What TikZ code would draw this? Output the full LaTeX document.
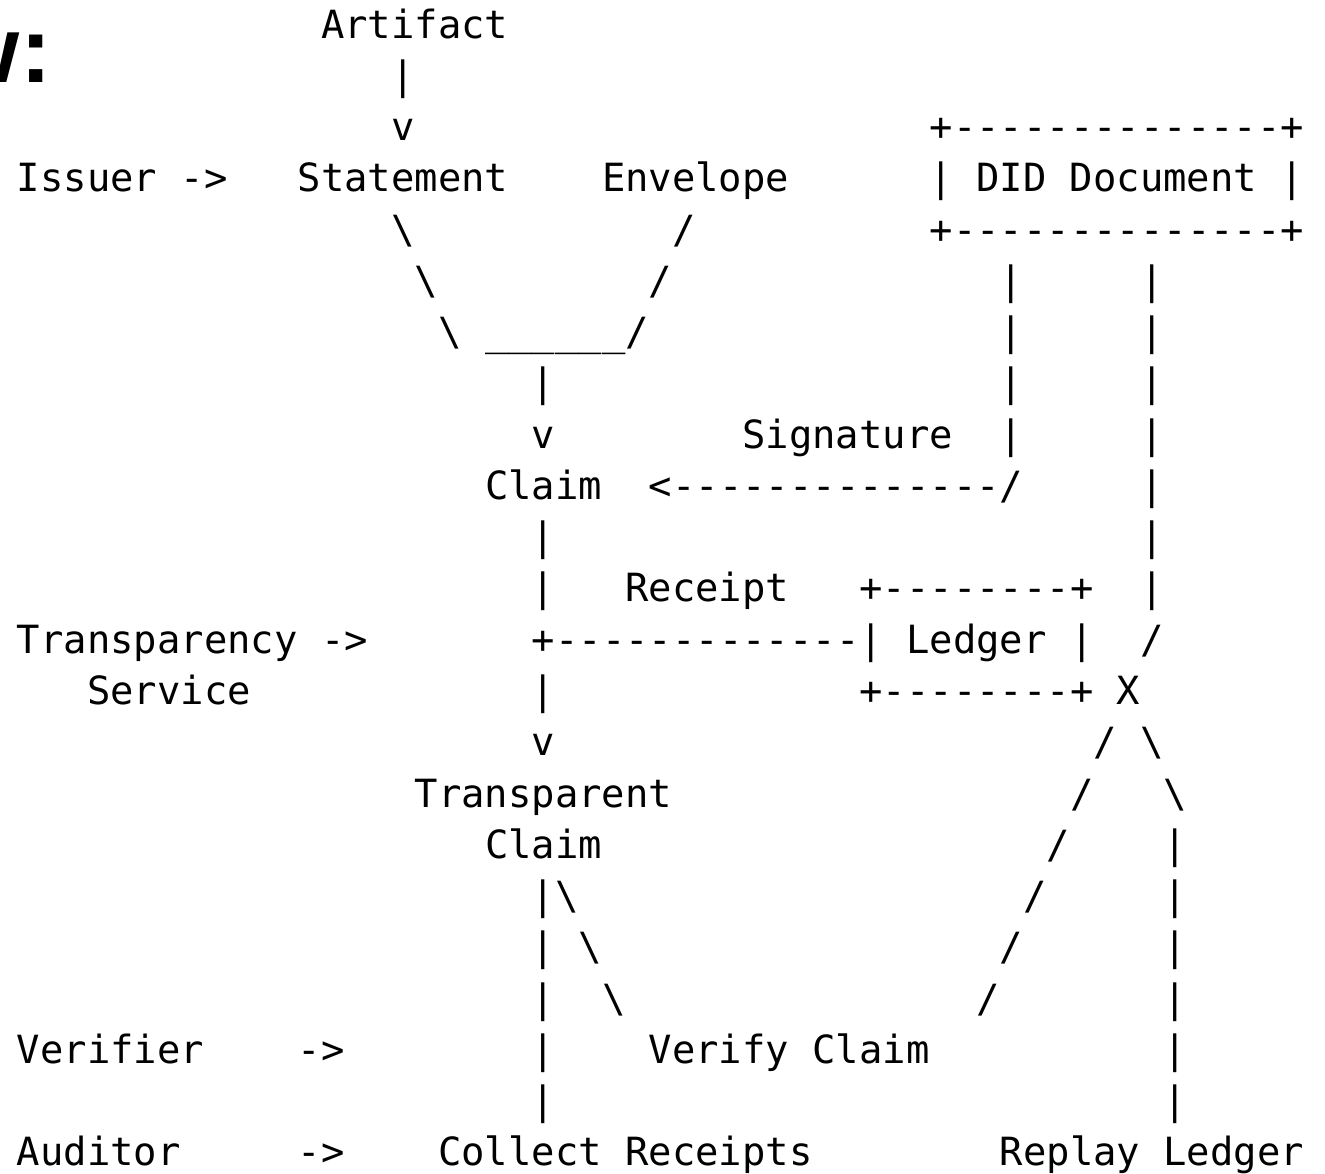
\documentclass[tikz,border=0pt]{standalone}
\usepackage{fontspec}
\newfontfamily\asciifont{DejaVu Sans Mono}
\newfontfamily\headfont{Liberation Sans}

% character grid: cell width 23.4, row pitch 51.27 (picture units, y downwards)
\tikzset{
  asc/.style={inner sep=0pt, outer sep=0pt, anchor=base west,
              font=\asciifont\fontsize{19.43pt}{20pt}\selectfont},
  heading/.style={inner sep=0pt, outer sep=0pt, anchor=base west,
              font=\headfont\bfseries\fontsize{47pt}{50pt}\selectfont},
}
% \asc{name}{column}{row}{text}
\newcommand\asc[4]{\node[asc] (#1) at ({17+23.4*(#2)},{38+51.27*(#3)}) {#4};}
% \dashrun{name}{first column}{last column}{row}
\newcommand\dashrun[4]{\foreach \c in {#2,...,#3}{\node[asc] (#1-\c) at ({17+23.4*\c},{38+51.27*(#4)}) {-};}}
\newcommand\bs{\textbackslash}

\begin{document}
\begin{tikzpicture}[x=0.5pt,y=-0.5pt]
\useasboundingbox (0,0) rectangle (1325,1173);
\clip (0,0) rectangle (1325,1173);

% tail of the section heading
\node[heading] (head) at (-53,82) {w:};

% row 0-3: artifact, statement, envelope, DID document
\asc{artifact}{13}{0}{Artifact}
\asc{a1}{16}{1}{|}
\asc{a2}{16}{2}{v}
\asc{did-tl}{39}{2}{+}\dashrun{did-top}{40}{53}{2}\asc{did-tr}{54}{2}{+}
\asc{issuer}{0}{3}{Issuer ->}
\asc{statement}{12}{3}{Statement}
\asc{envelope}{25}{3}{Envelope}
\asc{did-l}{39}{3}{|}
\asc{did}{41}{3}{DID Document}
\asc{did-r}{54}{3}{|}
\asc{did-bl}{39}{4}{+}\dashrun{did-bot}{40}{53}{4}\asc{did-br}{54}{4}{+}

% statement and envelope merge into the claim
\asc{s1}{16}{4}{\bs}
\asc{e1}{28}{4}{/}
\asc{s2}{17}{5}{\bs}
\asc{e2}{27}{5}{/}
\asc{s3}{18}{6}{\bs}
\foreach \c in {20,...,25}{\asc{u-\c}{\c}{6}{\textunderscore}}
\asc{e3}{26}{6}{/}
\asc{m1}{22}{7}{|}
\asc{m2}{22}{8}{v}
\asc{signature}{31}{8}{Signature}
\asc{claim}{20}{9}{Claim}
\asc{sig-tip}{27}{9}{<}\dashrun{sig}{28}{41}{9}\asc{sig-end}{42}{9}{/}

% two lines down from the DID document
\foreach \r in {5,...,8}{\asc{dl-\r}{42}{\r}{|}}
\foreach \r in {5,...,11}{\asc{dr-\r}{48}{\r}{|}}

% claim to transparency service and ledger
\asc{c1}{22}{10}{|}
\asc{c2}{22}{11}{|}
\asc{receipt}{26}{11}{Receipt}
\asc{led-tl}{36}{11}{+}\dashrun{led-top}{37}{44}{11}\asc{led-tr}{45}{11}{+}
\asc{transparency}{0}{12}{Transparency ->}
\asc{join}{22}{12}{+}\dashrun{rc}{23}{35}{12}
\asc{led-l}{36}{12}{|}
\asc{ledger}{38}{12}{Ledger}
\asc{led-r}{45}{12}{|}
\asc{dr-12}{48}{12}{/}
\asc{service}{3}{13}{Service}
\asc{c3}{22}{13}{|}
\asc{led-bl}{36}{13}{+}\dashrun{led-bot}{37}{44}{13}\asc{led-br}{45}{13}{+}
\asc{cross}{47}{13}{X}
\asc{c4}{22}{14}{v}
\asc{x-l14}{46}{14}{/}
\asc{x-r14}{48}{14}{\bs}
\asc{transparent}{17}{15}{Transparent}
\asc{x-l15}{45}{15}{/}
\asc{x-r15}{49}{15}{\bs}
\asc{tclaim}{20}{16}{Claim}
\asc{x-l16}{44}{16}{/}

% verification and audit branches
\foreach \r in {17,...,21}{\asc{t-\r}{22}{\r}{|}}
\asc{v1}{23}{17}{\bs}
\asc{v2}{24}{18}{\bs}
\asc{v3}{25}{19}{\bs}
\asc{x-l17}{43}{17}{/}
\asc{x-l18}{42}{18}{/}
\asc{x-l19}{41}{19}{/}
\foreach \r in {16,...,21}{\asc{rp-\r}{49}{\r}{|}}
\asc{verifier}{0}{20}{Verifier}
\asc{verifier-arrow}{12}{20}{->}
\asc{verify}{27}{20}{Verify Claim}
\asc{auditor}{0}{22}{Auditor}
\asc{auditor-arrow}{12}{22}{->}
\asc{collect}{18}{22}{Collect Receipts}
\asc{replay}{42}{22}{Replay Ledger}
\end{tikzpicture}
\end{document}
